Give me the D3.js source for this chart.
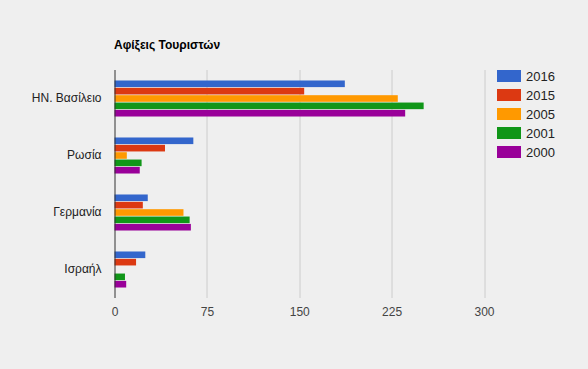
<!DOCTYPE html>
<html>
<head>
<meta charset="utf-8">
<script src="https://cdn.jsdelivr.net/npm/d3@7"></script>
<style>
  body { margin: 0; background: #efefef; }
  text { font-family: "Liberation Sans", Arial, sans-serif; }
</style>
</head>
<body>
<div id="chart"></div>
<script>
var svgWidth = 588;
var svgHeight = 369;

// data
var countries = ["ΗΝ. Βασίλειο", "Ρωσία", "Γερμανία", "Ισραήλ"];
var years = ["2016", "2015", "2005", "2001", "2000"];
var colors = ["#3366cc", "#dc3912", "#ff9900", "#109618", "#990099"];
var values = {
  "2016": [187, 64, 27, 25],
  "2015": [154, 41, 23, 17.5],
  "2005": [230, 10, 56, 0],
  "2001": [251, 22, 61, 8.5],
  "2000": [236, 20.5, 62, 9.5]
};
var xTicks = [0, 75, 150, 225, 300];

var margin = { top: 70, left: 114.5 };
var width = 369.5;
var height = 228;

var svg = d3.select("#chart")
  .append("svg")
  .attr("width", svgWidth)
  .attr("height", svgHeight);

var chartGroup = svg.append("g")
  .attr("transform", `translate(${margin.left}, ${margin.top})`);

var xScale = d3.scaleLinear().domain([0, 300]).range([0, width]);

var yScale = d3.scaleBand()
  .domain(countries)
  .range([0, height])
  .paddingInner(0.368)
  .paddingOuter(0.184);

var ySub = d3.scaleBand()
  .domain(years)
  .range([0, yScale.bandwidth()])
  .paddingInner(0.1);

// gridlines
chartGroup.selectAll(".grid")
  .data(xTicks.slice(1))
  .enter()
  .append("line")
  .attr("x1", d => Math.round(xScale(d)) + 0.5)
  .attr("x2", d => Math.round(xScale(d)) + 0.5)
  .attr("y1", 0)
  .attr("y2", height)
  .attr("stroke", "#cccccc");

// bars
var rows = [];
countries.forEach((c, i) => {
  years.forEach(y => rows.push({ country: c, year: y, value: values[y][i] }));
});

chartGroup.selectAll("rect.bar")
  .data(rows.filter(d => d.value > 0))
  .enter()
  .append("rect")
  .attr("class", "bar")
  .attr("x", 0)
  .attr("y", d => yScale(d.country) + ySub(d.year))
  .attr("width", d => xScale(d.value))
  .attr("height", ySub.bandwidth())
  .attr("fill", d => colors[years.indexOf(d.year)]);

// zero axis line
chartGroup.append("line")
  .attr("x1", 0.5).attr("x2", 0.5)
  .attr("y1", 0).attr("y2", height)
  .attr("stroke", "#333333");

// x tick labels
var bottomAxis = d3.axisBottom(xScale).tickValues(xTicks).tickSize(0).tickPadding(9);
var xAxis = chartGroup.append("g")
  .attr("transform", `translate(0, ${height})`)
  .call(bottomAxis);
xAxis.select(".domain").remove();
xAxis.selectAll("text")
  .attr("font-size", 12)
  .attr("fill", "#444444")
  .style("font-family", "Liberation Sans, Arial, sans-serif");

// y category labels
var leftAxis = d3.axisLeft(yScale).tickSize(0).tickPadding(13);
var yAxis = chartGroup.append("g").call(leftAxis);
yAxis.select(".domain").remove();
yAxis.selectAll("text")
  .attr("font-size", 12)
  .attr("fill", "#222222")
  .style("font-family", "Liberation Sans, Arial, sans-serif");

// title
svg.append("text")
  .attr("x", 114)
  .attr("y", 49)
  .attr("font-size", 12)
  .attr("font-weight", "bold")
  .attr("fill", "#000000")
  .text("Αφίξεις Τουριστών");

// legend
var legend = svg.append("g").attr("transform", "translate(497, 70)");
var items = legend.selectAll("g")
  .data(years)
  .enter()
  .append("g")
  .attr("transform", (d, i) => `translate(0, ${i * 19})`);
items.append("rect")
  .attr("width", 24)
  .attr("height", 12)
  .attr("fill", (d, i) => colors[i]);
items.append("text")
  .attr("x", 29)
  .attr("y", 11)
  .attr("font-size", 13)
  .attr("fill", "#222222")
  .text(d => d);
</script>
</body>
</html>
